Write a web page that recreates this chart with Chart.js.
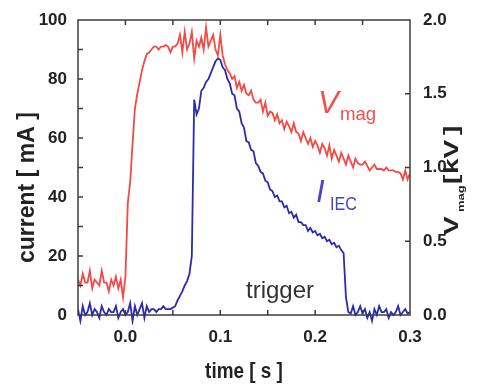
<!DOCTYPE html>
<html>
<head>
<meta charset="utf-8">
<script src="https://cdn.jsdelivr.net/npm/chart.js@4.4.1/dist/chart.umd.min.js"></script>
<style>
  html, body { margin: 0; padding: 0; background: #fff; }
  #wrap { width: 477px; height: 385px; position: relative; }
</style>
</head>
<body>
<div id="wrap"><canvas id="chart"></canvas></div>
<script>
// sample times in ms (2.5 ms steps)
const timeMs = [
  -50,-47.5,-45,-42.5,-40,-37.5,-35,-32.5,-30,-27.5,
  -25,-22.5,-20,-17.5,-15,-12.5,-10,-7.5,-5,-2.5,
  0,2.5,5,7.5,10,12.5,15,17.5,20,22.5,
  25,27.5,30,32.5,35,37.5,40,42.5,45,47.5,
  50,52.5,55,57.5,60,62.5,65,67.5,70,72.5,
  75,77.5,80,82.5,85,87.5,90,92.5,95,97.5,
  100,102.5,105,107.5,110,112.5,115,117.5,120,122.5,
  125,127.5,130,132.5,135,137.5,140,142.5,145,147.5,
  150,152.5,155,157.5,160,162.5,165,167.5,170,172.5,
  175,177.5,180,182.5,185,187.5,190,192.5,195,197.5,
  200,202.5,205,207.5,210,212.5,215,217.5,220,222.5,
  225,227.5,230,232.5,235,237.5,240,242.5,245,247.5,
  250,252.5,255,257.5,260,262.5,265,267.5,270,272.5,
  275,277.5,280,282.5,285,287.5,290,292.5,295,297.5,
  300
];

// V_mag in kV (right axis)
const vmagKV = [
  0.24,0.20,0.28,0.22,0.22,0.30,0.18,0.24,0.22,0.20,
  0.30,0.22,0.22,0.16,0.24,0.20,0.26,0.18,0.24,0.12,
  0.26,0.76,0.90,1.16,1.40,1.50,1.58,1.66,1.72,1.77,
  1.78,1.80,1.82,1.82,1.80,1.82,1.82,1.83,1.82,1.78,
  1.82,1.82,1.84,1.90,1.78,1.92,1.80,1.84,1.92,1.74,
  1.86,1.82,1.88,1.80,1.95,1.82,1.86,1.90,1.80,1.76,
  1.90,1.76,1.70,1.66,1.64,1.60,1.62,1.54,1.58,1.52,
  1.56,1.50,1.49,1.52,1.46,1.44,1.44,1.46,1.38,1.44,
  1.35,1.38,1.37,1.32,1.36,1.30,1.32,1.26,1.31,1.28,
  1.24,1.30,1.24,1.23,1.18,1.24,1.20,1.16,1.20,1.14,
  1.18,1.15,1.10,1.16,1.13,1.08,1.15,1.06,1.12,1.08,
  1.04,1.10,1.06,1.02,1.08,1.04,1.00,1.06,1.03,1.02,
  1.02,1.04,1.01,0.98,1.00,1.02,0.99,0.99,0.99,0.98,
  1.00,0.98,0.98,0.98,0.97,0.97,0.96,0.92,0.98,0.92,
  0.96
];

// I_IEC in mA (left axis)
const iecMA = [
  2,-2,3,0,1,4,0,2,1,-1,
  3,1,0,2,1,1,3,-1,1,2,
  0,1,4,-2,3,0,2,4,-1,3,
  1,2,2,1,2,2,3,2,2,2,
  2.5,3,5,6.5,8,10,11.5,14,20,73,
  68,70,76,77,79,80,82,84,86,87,
  86.5,84,83,80,78.5,75,74.5,70,69,65,
  63.5,59,58.5,56,55.5,51.5,50.5,48.5,48,45.5,
  45,42.5,42,40,40.5,38.5,38.5,36.5,37,34.5,
  35,33,34,31.5,31.5,30.5,30.5,28.5,29.5,28,
  28.5,27,27.5,26,26.5,25,25.5,24,24.5,23,
  23.5,22,21,6,1,0.5,3,0,1,3,
  0.5,2,-1,1,-2,2,0,3,1,1,
  2,-1,1,0,1,3,0,1,2,0.5,
  1
];

const xTickLabels = [0, 0.1, 0.2, 0.3];
const xTickMarks = [0, 0.05, 0.1, 0.15, 0.2, 0.25];
const yLeftTickLabels = [0, 20, 40, 60, 80, 100];
const yLeftTickMarks = [10, 20, 30, 40, 50, 60, 70, 80, 90];
const yRightTickLabels = [0, 0.5, 1.0, 1.5, 2.0];
const yRightTickMarks = [0.5, 1.0, 1.5];

const sans = "'Liberation Sans', Arial, sans-serif";
const tickFont = { family: sans, size: 17, weight: 'bold' };
const frameColor = '#3c3c3c';

function drawText(ctx, s, x, y, font, color, sx) {
  ctx.save();
  ctx.translate(x, y);
  ctx.scale(sx || 1, 1);
  ctx.font = font;
  ctx.fillStyle = color;
  ctx.textBaseline = 'alphabetic';
  ctx.fillText(s, 0, 0);
  ctx.restore();
}

const framePlugin = {
  id: 'frame',
  afterDatasetsDraw(chart) {
    const { ctx, chartArea: a, scales } = chart;
    ctx.save();
    ctx.strokeStyle = frameColor;
    ctx.lineWidth = 1.5;
    ctx.strokeRect(a.left, a.top, a.right - a.left, a.bottom - a.top);
    // inward ticks
    ctx.beginPath();
    xTickMarks.forEach(v => {
      const px = scales.x.getPixelForValue(v);
      ctx.moveTo(px, a.bottom); ctx.lineTo(px, a.bottom - 5);
      ctx.moveTo(px, a.top); ctx.lineTo(px, a.top + 5);
    });
    yLeftTickMarks.forEach(v => {
      const py = scales.y.getPixelForValue(v);
      ctx.moveTo(a.left, py); ctx.lineTo(a.left + 5, py);
    });
    yRightTickMarks.forEach(v => {
      const py = scales.yR.getPixelForValue(v);
      ctx.moveTo(a.right, py); ctx.lineTo(a.right - 5, py);
    });
    ctx.stroke();
    ctx.restore();

    // curve labels
    drawText(ctx, 'V', 318, 113, 'italic 31px ' + sans, '#f05050');
    drawText(ctx, 'mag', 340, 120, '19px ' + sans, '#f05050', 0.98);
    drawText(ctx, 'I', 316, 202, 'italic 31px ' + sans, '#4646c4');
    drawText(ctx, 'IEC', 330, 210, '19px ' + sans, '#4646c4', 0.85);
    drawText(ctx, 'trigger', 246, 298, '24px ' + sans, '#333');

    // x title
    ctx.save();
    ctx.font = 'bold 22px ' + sans;
    const w = ctx.measureText('time [ s ]').width * 0.86;
    ctx.restore();
    drawText(ctx, 'time [ s ]', (a.left + a.right) / 2 - w / 2, 378, 'bold 22px ' + sans, '#222', 0.86);

    // left title
    ctx.save();
    ctx.translate(34, 263);
    ctx.rotate(-Math.PI / 2);
    ctx.font = 'bold 23px ' + sans;
    ctx.fillStyle = '#222';
    ctx.fillText('current [ mA ]', 0, 0);
    ctx.restore();

    // right title
    ctx.save();
    ctx.translate(458, 235);
    ctx.rotate(-Math.PI / 2);
    ctx.scale(1, 0.75);
    ctx.fillStyle = '#222';
    ctx.font = 'bold 28px ' + sans;
    ctx.fillText('V', 0, 0);
    ctx.font = 'bold 13px ' + sans;
    ctx.fillText('mag', 23, 8);
    ctx.font = 'bold 28px ' + sans;
    ctx.fillText('[', 51, 0);
    ctx.fillText('kV', 61, 0);
    ctx.fillText(']', 100, 0);
    ctx.restore();
  }
};

new Chart(document.getElementById('chart'), {
  type: 'line',
  data: {
    datasets: [
      {
        label: 'Vmag',
        data: timeMs.map((t, i) => ({ x: t / 1000, y: vmagKV[i] })),
        yAxisID: 'yR',
        borderColor: '#f24a46',
        borderWidth: 1.8,
        pointRadius: 0,
        tension: 0
      },
      {
        label: 'IEC',
        data: timeMs.map((t, i) => ({ x: t / 1000, y: iecMA[i] })),
        yAxisID: 'y',
        borderColor: '#2b2bb0',
        borderWidth: 1.8,
        pointRadius: 0,
        tension: 0,
        clip: { left: 0, top: 0, right: 0, bottom: 10 }
      }
    ]
  },
  options: {
    responsive: true,
    maintainAspectRatio: false,
    animation: false,
    events: [],
    layout: { padding: { top: 20, left: 0, right: 0, bottom: 0 } },
    plugins: { legend: { display: false }, tooltip: { enabled: false } },
    scales: {
      x: {
        type: 'linear', min: -0.05, max: 0.3,
        grid: { display: false }, border: { display: false },
        afterBuildTicks: s => { s.ticks = xTickLabels.map(v => ({ value: v })); },
        afterFit: s => { s.height = 70; },
        ticks: { autoSkip: false, maxRotation: 0, padding: 4, color: '#222', font: tickFont,
                 callback: v => v.toFixed(1) }
      },
      y: {
        position: 'left', min: 0, max: 100,
        grid: { display: false }, border: { display: false },
        afterBuildTicks: s => { s.ticks = yLeftTickLabels.map(v => ({ value: v })); },
        afterFit: s => { s.width = 78; },
        ticks: { autoSkip: false, padding: 3, color: '#222', font: tickFont }
      },
      yR: {
        position: 'right', min: 0, max: 2,
        grid: { display: false }, border: { display: false },
        afterBuildTicks: s => { s.ticks = yRightTickLabels.map(v => ({ value: v })); },
        afterFit: s => { s.width = 67; },
        ticks: { autoSkip: false, padding: 5, color: '#222', font: tickFont,
                 callback: v => v.toFixed(1) }
      }
    }
  },
  plugins: [framePlugin]
});
</script>
</body>
</html>
